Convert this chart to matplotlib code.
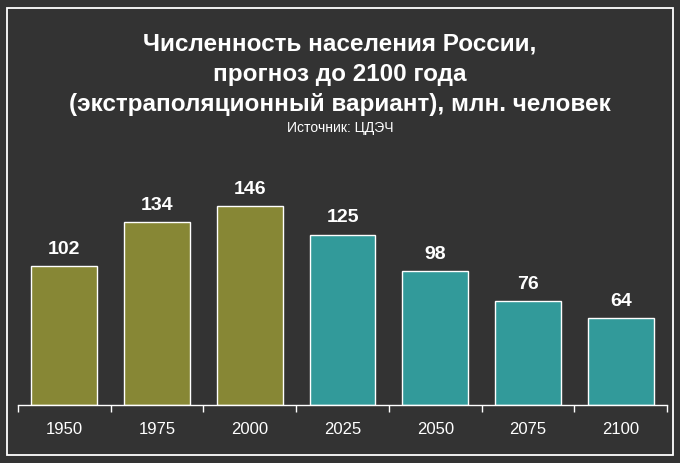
import matplotlib
matplotlib.use('Agg')
import matplotlib.pyplot as plt
from matplotlib.patches import Rectangle

years = ['1950', '1975', '2000', '2025', '2050', '2075', '2100']
population = [102, 134, 146, 125, 98, 76, 64]
n_actual = 3  # first three are actual data, the rest are forecast

title_lines = ['Численность населения России,',
               'прогноз до 2100 года',
               '(экстраполяционный вариант), млн. человек']
source = 'Источник: ЦДЭЧ'

bg = '#333333'
olive = '#878735'
teal = '#329a9a'

plt.rcParams['font.family'] = ['Liberation Sans', 'DejaVu Sans']

fig = plt.figure(figsize=(6.8, 4.63), dpi=100)
fig.patch.set_facecolor(bg)

# white frame around everything
fig.patches.append(Rectangle((7 / 680, 8 / 463), 666 / 680, 447 / 463, transform=fig.transFigure,
                             fill=False, edgecolor='white', linewidth=1.3))

ax = fig.add_axes([18 / 680, 58 / 463, 649 / 680, 235 / 463])
ax.set_facecolor(bg)

x = list(range(len(years)))
colors = [olive if i < n_actual else teal for i in x]
ax.bar(x, population, width=0.71, color=colors, edgecolor='white', linewidth=1)

for xi, v in zip(x, population):
    ax.text(xi, v + 6, str(v), ha='center', va='bottom', fontsize=14, fontweight='bold', color='white')

ax.set_xlim(-0.5, len(years) - 0.5)
ax.set_ylim(0, 172.4)
for s in ['top', 'right', 'left']:
    ax.spines[s].set_visible(False)
ax.spines['bottom'].set_color('white')
ax.spines['bottom'].set_linewidth(1)
ax.set_yticks([])

# ticks between categories, labels centred under bars
ax.set_xticks([i - 0.5 for i in range(len(years) + 1)])
ax.set_xticklabels([])
ax.set_xticks(x, minor=True)
ax.set_xticklabels(years, minor=True, fontsize=12, color='white', fontweight='medium')
ax.tick_params(axis='x', which='major', length=5, color='white', width=1)
ax.tick_params(axis='x', which='minor', length=0, pad=12)

for line, ypix in zip(title_lines, [44, 74, 104]):
    fig.text(0.5, 1 - ypix / 463, line, ha='center', va='center', fontsize=17.5,
             fontweight='bold', color='white')
fig.text(0.5, 1 - 128 / 463, source, ha='center', va='center', fontsize=10, color='white')

plt.savefig('out.png', dpi=100, facecolor=bg)
